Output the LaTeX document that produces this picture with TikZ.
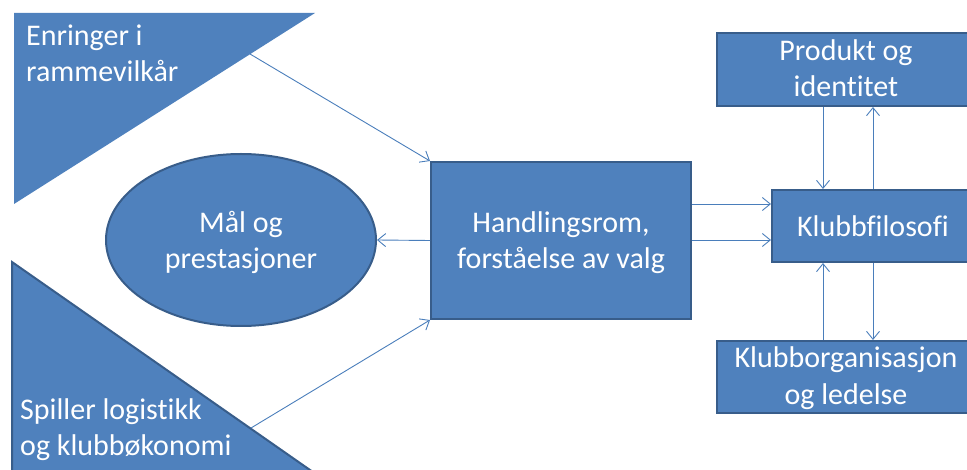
\documentclass[tikz,border=0pt]{standalone}
\usepackage{fontspec}
\setmainfont{Carlito}[Ligatures={NoCommon,NoRare,NoContextual}]
\usetikzlibrary{arrows.meta,shapes.geometric}
\definecolor{boxfill}{HTML}{4F81BD}
\definecolor{boxline}{HTML}{385D8A}
\definecolor{linkcol}{HTML}{4A7EBB}
\tikzset{
  shapebox/.style={fill=boxfill, draw=boxline, line width=2pt},
  lbl/.style={text=white, font=\fontsize{30}{36}\selectfont, align=center, inner sep=0pt, anchor=base},
  lbll/.style={lbl, align=left, anchor=base west},
  arr/.style={draw=linkcol, line width=0.9pt, -{Straight Barb[length=8pt,width=13pt,line width=0.9pt]}}
}
\begin{document}
\begin{tikzpicture}[x=1pt,y=-1pt]
\useasboundingbox (0,0) rectangle (967,470);
\clip (0,0) rectangle (967,470);

% side triangles
\fill[boxfill] (14,13) -- (315,13) -- (14,204) -- cycle;
\filldraw[shapebox] (12,262) -- (12,500) -- (353,500) -- cycle;

% goal ellipse
\node[shapebox, ellipse, minimum width=270pt, minimum height=172pt] (mp) at (241,240) {};

% central box
\node[shapebox, rectangle, minimum width=260pt, minimum height=157pt] (hr) at (561,240.5) {};

% right-hand boxes
\node[shapebox, rectangle, minimum width=258pt, minimum height=73pt] (pi) at (846,69.5) {};
\node[shapebox, rectangle, minimum width=203pt, minimum height=72pt] (kf) at (873.5,226) {};
\node[shapebox, rectangle, minimum width=258pt, minimum height=72pt] (ko) at (846,377) {};

% labels (anchored at the baseline of their last line)
\node[lbll] (t1) at (26,82) {Enringer i\\rammevilkår};
\node[lbll] (t2) at (20,455) {Spiller logistikk\\og klubbøkonomi};
\node[lbl] (t3) at (241,269) {Mål og\\prestasjoner};
\node[lbl] (t4) at (561,269) {Handlingsrom,\\forståelse av valg};
\node[lbl] (t5) at (846,97) {Produkt og\\identitet};
\node[lbl] (t6) at (873,237) {Klubbfilosofi};
\node[lbl] (t7) at (846,404) {Klubborganisasjon\\og ledelse};

% connector start points on the triangle edges
\coordinate (s1) at (250,54);
\coordinate (s2) at (251,428);

% connectors
\draw[arr] (s1) -- (hr.north west);
\draw[arr] (s2) -- (hr.south west);
\draw[arr] (hr.west) -- (mp.east);
\draw[arr] (hr.east |- 0,204) -- (kf.west |- 0,204);
\draw[arr] (hr.east |- 0,240) -- (kf.west |- 0,240);
\draw[arr] (pi.south -| 823,0) -- (kf.north -| 823,0);
\draw[arr] (kf.north -| 873,0) -- (pi.south -| 873,0);
\draw[arr] (ko.north -| 823,0) -- (kf.south -| 823,0);
\draw[arr] (kf.south -| 873,0) -- (ko.north -| 873,0);
\end{tikzpicture}
\end{document}
